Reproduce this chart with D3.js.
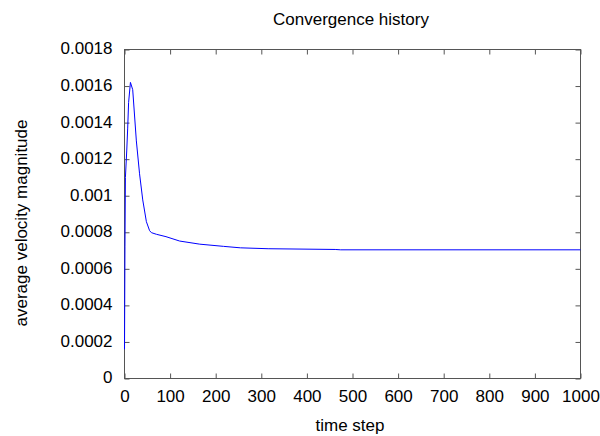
<!DOCTYPE html>
<html>
<head>
<meta charset="utf-8">
<script src="https://cdn.jsdelivr.net/npm/d3@7"></script>
<style>
  html, body { margin: 0; padding: 0; background: #fff; }
  svg { display: block; }
  text { font-family: "Liberation Sans", Arial, Helvetica, sans-serif; fill: #000; }
</style>
</head>
<body>
<svg id="chart" width="600" height="436"></svg>
<script>
// ---- data ----
const title = "Convergence history";
const xLabel = "time step";
const yLabel = "average velocity magnitude";
const xTicks = [0, 100, 200, 300, 400, 500, 600, 700, 800, 900, 1000];
const yTicks = [0, 0.0002, 0.0004, 0.0006, 0.0008, 0.001, 0.0012, 0.0014, 0.0016, 0.0018];
const yTickLabels = ["0", "0.0002", "0.0004", "0.0006", "0.0008", "0.001", "0.0012", "0.0014", "0.0016", "0.0018"];
const steps  = [0, 1, 2, 5, 7, 9, 13, 18, 26, 33, 40, 48, 55, 59, 70, 91, 121, 165, 217, 254, 315, 462, 474, 1000];
const values = [0.00016, 0.00072, 0.00110, 0.00125, 0.00137, 0.00151, 0.00162, 0.00158, 0.00130, 0.00112, 0.000977, 0.000858, 0.000809, 0.000798, 0.000789, 0.000776, 0.000752, 0.000735, 0.000723, 0.000715, 0.00071, 0.000706, 0.000704, 0.000704];

// ---- layout ----
const svg = d3.select("#chart");
const L = 124.5, R = 580.5, T = 49.5, B = 378.5;
const frameColor = "#555";
const fontSize = 17;

const x = d3.scaleLinear().domain([0, 1000]).range([L, R]);
const y = d3.scaleLinear().domain([0, 0.0018]).range([B, T]);

// frame
svg.append("rect")
  .attr("x", L).attr("y", T).attr("width", R - L).attr("height", B - T)
  .attr("fill", "none").attr("stroke", frameColor).attr("stroke-width", 1);

function styleAxis(g, labels) {
  g.select(".domain").remove();
  g.selectAll(".tick line").attr("stroke", frameColor);
  g.selectAll(".tick text").attr("font-size", fontSize).attr("font-family", "Liberation Sans, Arial, sans-serif").attr("fill", "#000");
  if (!labels) g.selectAll(".tick text").remove();
}

// bottom
svg.append("g").attr("transform", `translate(0,${B})`)
  .call(d3.axisBottom(x).tickValues(xTicks).tickSize(-5).tickPadding(11).tickFormat(d3.format("d")))
  .call(g => styleAxis(g, true));
// top
svg.append("g").attr("transform", `translate(0,${T})`)
  .call(d3.axisTop(x).tickValues(xTicks).tickSize(-5).tickFormat(""))
  .call(g => styleAxis(g, false));
// left
svg.append("g").attr("transform", `translate(${L},0)`)
  .call(d3.axisLeft(y).tickValues(yTicks).tickSize(-5).tickPadding(12).tickFormat((d, i) => yTickLabels[i]))
  .call(g => styleAxis(g, true))
  .call(g => g.selectAll(".tick text").attr("dy", "0.26em"));
// right
svg.append("g").attr("transform", `translate(${R},0)`)
  .call(d3.axisRight(y).tickValues(yTicks).tickSize(-5).tickFormat(""))
  .call(g => styleAxis(g, false));

// line
const pts = steps.map((s, i) => [s, values[i]]);
svg.append("path")
  .datum(pts)
  .attr("fill", "none")
  .attr("stroke", "#0000ff")
  .attr("stroke-width", 1)
  .attr("d", d3.line().x(d => x(d[0])).y(d => y(d[1])));

// title & labels
svg.append("text").attr("x", 351).attr("y", 25).attr("text-anchor", "middle")
  .attr("font-size", fontSize).text(title);
svg.append("text").attr("x", 350).attr("y", 431).attr("text-anchor", "middle")
  .attr("font-size", fontSize).text(xLabel);
svg.append("text").attr("transform", "translate(27,223) rotate(-90)").attr("text-anchor", "middle")
  .attr("font-size", fontSize).text(yLabel);
</script>
</body>
</html>
